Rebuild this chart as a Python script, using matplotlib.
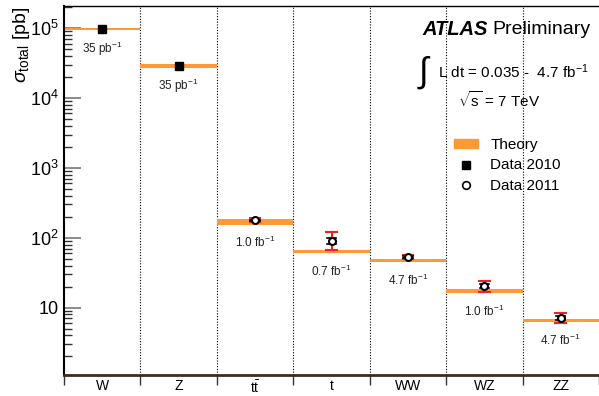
import matplotlib
matplotlib.use("Agg")
import matplotlib.pyplot as plt
import matplotlib.patches as patches
from matplotlib.lines import Line2D
from matplotlib.ticker import FixedLocator, FixedFormatter, LogLocator, NullFormatter

plt.rcParams["font.family"] = ["Liberation Sans", "DejaVu Sans"]
plt.rcParams["mathtext.fontset"] = "custom"
plt.rcParams["mathtext.rm"] = "Liberation Sans"
plt.rcParams["mathtext.it"] = "Liberation Sans:italic"
plt.rcParams["mathtext.bf"] = "Liberation Sans:bold"

# processes and values (pb)
processes = ["W", "Z", r"$\mathrm{t\bar{t}}$", "t", "WW", "WZ", "ZZ"]
theory_lo = [9.3e4, 2.72e4, 150, 61.5, 44.5, 16.4, 6.3]
theory_hi = [1.01e5, 3.03e4, 185, 66.5, 49.5, 18.3, 6.9]
lumi_labels = ["35 pb$^{-1}$", "35 pb$^{-1}$", "1.0 fb$^{-1}$", "0.7 fb$^{-1}$",
               "4.7 fb$^{-1}$", "1.0 fb$^{-1}$", "4.7 fb$^{-1}$"]

# Data 2010 (W, Z)
data2010_idx = [0, 1]
data2010_val = [9.75e4, 2.86e4]

# Data 2011
data2011_idx = [2, 3, 4, 5, 6]
data2011_val = [177, 90, 53.5, 20.6, 7.2]
data2011_tot_lo = [166, 67, 49.6, 16.9, 6.1]
data2011_tot_hi = [189, 122, 57.4, 24.1, 8.5]
data2011_stat_lo = [174, 82, 52.0, 19.2, 6.7]
data2011_stat_hi = [180, 98, 55.0, 22.0, 7.7]

orange = "#fd9a35"

fig = plt.figure(figsize=(5.99, 3.96), dpi=100)
ax = fig.add_axes([64 / 599, 21 / 396, 535 / 599, 369 / 396])
ax.set_yscale("log")
ax.set_xlim(-0.5, -0.5 + 535 / 77)
ax.set_ylim(1.087, 2.07e5)

# theory bands
for i in range(len(processes)):
    ax.fill_between([i - 0.5, i + 0.5], theory_lo[i], theory_hi[i],
                    color=orange, lw=0, zorder=2)
    mid = (theory_lo[i] * theory_hi[i]) ** 0.5
    ax.annotate(lumi_labels[i], xy=(i, mid), xytext=(0, -14.5),
                textcoords="offset points", ha="center", va="center",
                fontsize=8.5, color="#222222")

# boundaries
for b in range(1, len(processes)):
    ax.axvline(b - 0.5, color="black", ls=(0, (1, 1.5)), lw=0.8, zorder=1)

# data 2011 errors
for k, i in enumerate(data2011_idx):
    ax.plot([i, i], [data2011_tot_lo[k], data2011_tot_hi[k]], color="#ee2222", lw=1.5, zorder=3)
    for yv in (data2011_tot_lo[k], data2011_tot_hi[k]):
        ax.plot([i - 0.07, i + 0.07], [yv, yv], color="#ee2222", lw=1.5, zorder=3)
    ax.plot([i, i], [data2011_stat_lo[k], data2011_stat_hi[k]], color="black", lw=1.5, zorder=4)
    for yv in (data2011_stat_lo[k], data2011_stat_hi[k]):
        ax.plot([i - 0.06, i + 0.06], [yv, yv], color="black", lw=1.2, zorder=4)

ax.plot(data2010_idx, data2010_val, ls="none", marker="s", ms=5.5,
        color="black", zorder=5)
ax.plot(data2011_idx, data2011_val, ls="none", marker="o", ms=5,
        mfc="white", mec="black", mew=1.5, zorder=5)

# y axis ticks
ax.yaxis.set_major_locator(FixedLocator([10, 100, 1e3, 1e4, 1e5]))
ax.yaxis.set_major_formatter(FixedFormatter(["10", "$10^{2}$", "$10^{3}$", "$10^{4}$", "$10^{5}$"]))
ax.yaxis.set_minor_locator(LogLocator(base=10, subs=range(2, 10)))
ax.yaxis.set_minor_formatter(NullFormatter())
ax.tick_params(axis="y", which="major", direction="in", length=12, width=1.2,
               color="#777777", labelsize=13, pad=4)
ax.tick_params(axis="y", which="minor", direction="in", length=6, width=1.0,
               color="#333333")

# x axis ticks
ax.set_xticks([b - 0.5 for b in range(len(processes) + 1)])
ax.set_xticklabels([])
ax.set_xticks(range(len(processes)), minor=True)
ax.set_xticklabels(processes, minor=True)
ax.tick_params(axis="x", which="major", direction="out", length=7, width=1.0, color="#333333")
ax.tick_params(axis="x", which="minor", length=0, labelsize=10, pad=3)

ax.spines["right"].set_visible(False)
ax.spines["left"].set_linewidth(1.5)
ax.spines["top"].set_linewidth(1.0)
ax.spines["bottom"].set_linewidth(2.0)
ax.spines["bottom"].set_color("#3d2b1f")

ax.set_ylabel(r"$\sigma_{\mathrm{total}}$ [pb]", fontsize=14, loc="top", labelpad=-2)

# annotations
ax.text(0.669, 0.936, "ATLAS", transform=ax.transAxes, fontsize=14.5,
        fontweight="bold", style="italic", ha="left", va="center")
ax.text(0.80, 0.936, "Preliminary", transform=ax.transAxes, fontsize=14,
        ha="left", va="center")
ax.text(0.660, 0.82, r"$\int$", transform=ax.transAxes, fontsize=25,
        ha="left", va="center")
ax.text(0.700, 0.822, "L dt = 0.035 -  4.7 fb$^{-1}$", transform=ax.transAxes,
        fontsize=11, ha="left", va="center")
ax.text(0.737, 0.745, r"$\sqrt{\mathrm{s}}$ = 7 TeV", transform=ax.transAxes,
        fontsize=11, ha="left", va="center")

handles = [patches.Patch(color=orange),
           Line2D([], [], ls="none", marker="s", ms=5.5, color="black"),
           Line2D([], [], ls="none", marker="o", ms=5.5, mfc="white", mec="black", mew=1.2)]
leg = ax.legend(handles, ["Theory", "Data 2010", "Data 2011"], loc="upper left",
                bbox_to_anchor=(0.717, 0.66), frameon=False, fontsize=11,
                handlelength=1.6, handleheight=0.5, handletextpad=0.8,
                labelspacing=0.45, borderaxespad=0)

fig.savefig("out.png", dpi=100)
